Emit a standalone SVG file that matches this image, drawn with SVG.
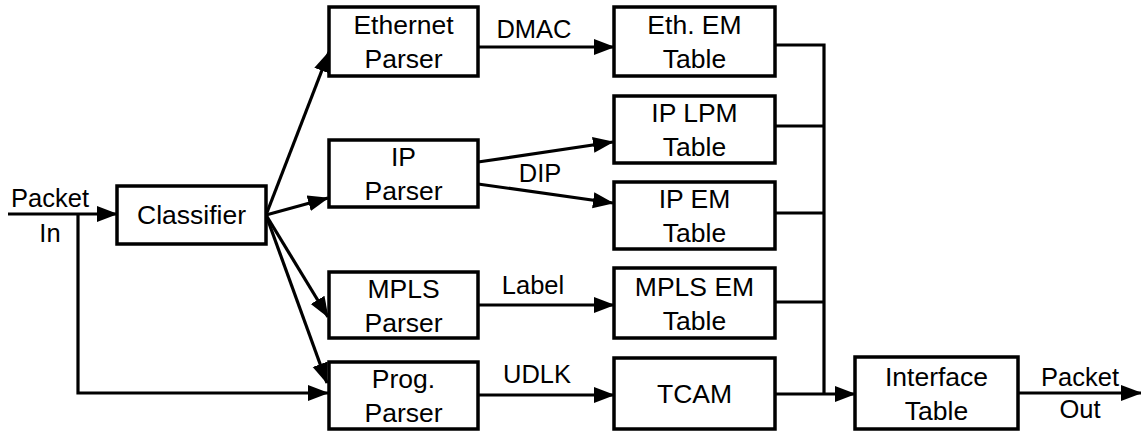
<svg xmlns="http://www.w3.org/2000/svg" width="1141" height="431" viewBox="0 0 1141 431">
<style>
.box{fill:#fff;stroke:#000;stroke-width:3.5}
.t{font-family:"Liberation Sans",Arial,sans-serif;font-size:26.5px;text-anchor:middle;fill:#000}
.l{font-family:"Liberation Sans",Arial,sans-serif;font-size:25.5px;text-anchor:middle;fill:#000}
.c{fill:none;stroke:#000;stroke-width:3.2}
.a{marker-end:url(#ah)}
</style>
<defs>
<marker id="ah" markerUnits="userSpaceOnUse" markerWidth="22" markerHeight="18" refX="20" refY="8" orient="auto">
<path d="M0,0 L21,8 L0,16 z" fill="#000"/>
</marker>
</defs>
<rect width="1141" height="431" fill="#fff"/>
<g id="connectors">
<path class="c a" d="M8,214 H117"/>
<path class="c a" d="M78,214 V393 H328"/>
<path class="c a" d="M266,215 L329,52"/>
<path class="c a" d="M266,215 L328,198"/>
<path class="c a" d="M266,215 L328,317"/>
<path class="c a" d="M266,215 L327,383"/>
<path class="c a" d="M478,47 H614"/>
<path class="c a" d="M478,162 L613,142"/>
<path class="c a" d="M478,184 L613,203"/>
<path class="c a" d="M478,305 H614"/>
<path class="c a" d="M478,395 H614"/>
<path class="c" d="M775,45 H824 V394"/>
<path class="c" d="M775,126 H824"/>
<path class="c" d="M775,213 H824"/>
<path class="c" d="M775,302 H824"/>
<path class="c a" d="M775,394 H855"/>
<path class="c a" d="M1018,393 H1141"/>
<text class="l" x="534" y="38">DMAC</text>
<text class="l" x="540" y="182">DIP</text>
<text class="l" x="533" y="294">Label</text>
<text class="l" x="537" y="383">UDLK</text>
<text class="l" x="50" y="207">Packet</text>
<text class="l" x="50" y="242">In</text>
<text class="l" x="1080" y="386">Packet</text>
<text class="l" x="1080" y="418">Out</text>
</g>
<g id="classifier"><rect class="box" x="117" y="186" width="149" height="58"/><text class="t" x="191.5" y="224">Classifier</text></g>
<g id="eth-parser"><rect class="box" x="329" y="7" width="149" height="69"/><text class="t" x="403.5" y="34">Ethernet</text><text class="t" x="403.5" y="68">Parser</text></g>
<g id="ip-parser"><rect class="box" x="329" y="140" width="149" height="67"/><text class="t" x="403.5" y="166">IP</text><text class="t" x="403.5" y="200">Parser</text></g>
<g id="mpls-parser"><rect class="box" x="329" y="272" width="149" height="66"/><text class="t" x="403.5" y="297.5">MPLS</text><text class="t" x="403.5" y="331.5">Parser</text></g>
<g id="prog-parser"><rect class="box" x="329" y="362" width="149" height="67"/><text class="t" x="403.5" y="388">Prog.</text><text class="t" x="403.5" y="422">Parser</text></g>
<g id="eth-em"><rect class="box" x="614" y="7" width="161" height="69"/><text class="t" x="694.5" y="34">Eth. EM</text><text class="t" x="694.5" y="68">Table</text></g>
<g id="ip-lpm"><rect class="box" x="614" y="96" width="161" height="67"/><text class="t" x="694.5" y="122">IP LPM</text><text class="t" x="694.5" y="156">Table</text></g>
<g id="ip-em"><rect class="box" x="614" y="182" width="161" height="67"/><text class="t" x="694.5" y="208">IP EM</text><text class="t" x="694.5" y="242">Table</text></g>
<g id="mpls-em"><rect class="box" x="614" y="268" width="161" height="70"/><text class="t" x="694.5" y="295.5">MPLS EM</text><text class="t" x="694.5" y="329.5">Table</text></g>
<g id="tcam"><rect class="box" x="614" y="358" width="161" height="71"/><text class="t" x="694.5" y="403">TCAM</text></g>
<g id="interface"><rect class="box" x="855" y="357" width="163" height="72"/><text class="t" x="936.5" y="385.5">Interface</text><text class="t" x="936.5" y="419.5">Table</text></g>
</svg>
